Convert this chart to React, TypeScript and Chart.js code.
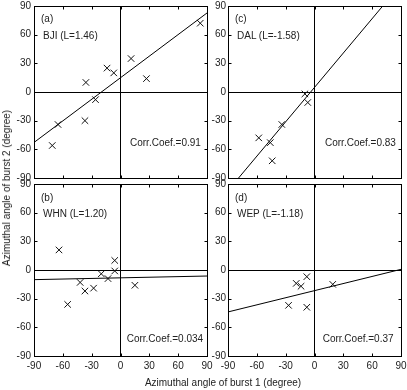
import React, { useEffect, useRef } from "react";
import { Chart, registerables } from "chart.js";

Chart.register(...registerables);

// Azimuthal angles (degree): burst 1 on x, burst 2 on y
const bjiBurst1 = [83, 11, 27, -14, -7, -36, -26, -37, -65, -71];
const bjiBurst2 = [72, 35, 14, 25, 20, 10, -8, -30, -34, -56];
const bjiFit = [-52.8, 82.7]; // fitted y at x = -90 and x = 90

const dalBurst1 = [-10, -7, -34, -58, -46, -44];
const dalBurst2 = [-2, -11, -34, -48, -53, -72];
const dalFit = [-103.2, 112.8];

const whnBurst1 = [-64, -6, -6, -20, -13, -42, -37, -28, 15, -55];
const whnBurst2 = [21, 10, -1, -4, -9, -13, -22, -19, -16, -36];
const whnFit = [-10.1, -6.3];

const wepBurst1 = [-8, -19, -14, 19, -27, -8];
const wepBurst2 = [-7, -14, -17, -15, -37, -39];
const wepFit = [-43.9, 0.7];

const fitX = [-90, 90];
const tickValues = [-90, -60, -30, 0, 30, 60, 90];

const FONT = "'Liberation Sans', Arial, Helvetica, sans-serif";
const INK = "#222";
const W = 407;
const H = 390;

type PanelCfg = {
  tag: string;
  station: string;
  corr: string;
  xs: number[];
  ys: number[];
  fit: number[];
  area: { left: number; right: number; top: number; bottom: number };
  showX: boolean;
  yLabelGap: number;
  text: { tagLeft: number; tagY: number; nameLeft: number; nameY: number; corrLeft: number; corrY: number };
};

const panels: PanelCfg[] = [
  {
    tag: "(a)", station: "BJI (L=1.46)", corr: "Corr.Coef.=0.91",
    xs: bjiBurst1, ys: bjiBurst2, fit: bjiFit,
    area: { left: 34, right: 207, top: 6, bottom: 178 }, showX: false, yLabelGap: 3,
    text: { tagLeft: 41, tagY: 19, nameLeft: 43, nameY: 36, corrLeft: 130, corrY: 142.7 },
  },
  {
    tag: "(c)", station: "DAL (L=-1.58)", corr: "Corr.Coef.=0.83",
    xs: dalBurst1, ys: dalBurst2, fit: dalFit,
    area: { left: 228, right: 401, top: 6, bottom: 178 }, showX: false, yLabelGap: 2,
    text: { tagLeft: 235, tagY: 19, nameLeft: 237, nameY: 36, corrLeft: 325, corrY: 142.7 },
  },
  {
    tag: "(b)", station: "WHN (L=1.20)", corr: "Corr.Coef.=0.034",
    xs: whnBurst1, ys: whnBurst2, fit: whnFit,
    area: { left: 34, right: 207, top: 184, bottom: 356 }, showX: true, yLabelGap: 3,
    text: { tagLeft: 41, tagY: 197.7, nameLeft: 43, nameY: 214, corrLeft: 126.7, corrY: 339.3 },
  },
  {
    tag: "(d)", station: "WEP (L=-1.18)", corr: "Corr.Coef.=0.37",
    xs: wepBurst1, ys: wepBurst2, fit: wepFit,
    area: { left: 228, right: 401, top: 184, bottom: 356 }, showX: true, yLabelGap: 2,
    text: { tagLeft: 235, tagY: 197.7, nameLeft: 237, nameY: 214, corrLeft: 322.7, corrY: 339.3 },
  },
];

const Y_AXIS_W = 30;
const X_AXIS_H = 20;

// Box around the plot area with short inward tick marks on all four sides
const frameTicks = {
  id: "frameTicks",
  afterDraw(chart: any) {
    const { ctx, chartArea, scales } = chart;
    const a = (v: number) => Math.round(v) + 0.5;
    const l = a(chartArea.left), r = a(chartArea.right), t = a(chartArea.top), b = a(chartArea.bottom);
    const len = 3;
    ctx.save();
    ctx.strokeStyle = "#000";
    ctx.lineWidth = 1;
    ctx.beginPath();
    for (const tk of scales.x.ticks) {
      const px = a(scales.x.getPixelForValue(tk.value));
      ctx.moveTo(px, b); ctx.lineTo(px, b - len);
      ctx.moveTo(px, t); ctx.lineTo(px, t + len);
    }
    for (const tk of scales.y.ticks) {
      const py = a(scales.y.getPixelForValue(tk.value));
      ctx.moveTo(l, py); ctx.lineTo(l + len, py);
      ctx.moveTo(r, py); ctx.lineTo(r - len, py);
    }
    ctx.stroke();
    ctx.strokeRect(l, t, r - l, b - t);
    ctx.restore();
  },
};

function zeroGrid(ctx: any) {
  return ctx.tick && ctx.tick.value === 0 ? "#000" : "rgba(0,0,0,0)";
}

function Panel({ cfg }: { cfg: PanelCfg }) {
  const ref = useRef<HTMLCanvasElement>(null);
  useEffect(() => {
    if (!ref.current) return;
    const { area } = cfg;
    const chart = new Chart(ref.current, {
      type: "scatter",
      data: {
        datasets: [
          {
            type: "line",
            data: fitX.map((x, i) => ({ x, y: cfg.fit[i] })),
            borderColor: "#000",
            borderWidth: 1,
            pointRadius: 0,
            fill: false,
          } as any,
          {
            type: "scatter",
            data: cfg.xs.map((x, i) => ({ x, y: cfg.ys[i] })),
            pointStyle: "crossRot",
            pointRadius: 4.6,
            borderColor: "#111",
            backgroundColor: "rgba(0,0,0,0)",
            borderWidth: 1,
          } as any,
        ],
      },
      options: {
        responsive: false,
        animation: false,
        events: [],
        layout: {
          padding: {
            left: area.left - Y_AXIS_W,
            right: W - area.right,
            top: area.top,
            bottom: H - area.bottom - X_AXIS_H,
          },
        },
        plugins: { legend: { display: false }, tooltip: { enabled: false } },
        scales: {
          x: {
            type: "linear",
            min: -90,
            max: 90,
            afterBuildTicks: (s: any) => { s.ticks = tickValues.map((v) => ({ value: v })); },
            ticks: {
              display: cfg.showX,
              autoSkip: false,
              maxRotation: 0,
              padding: 4,
              color: INK,
              font: { family: FONT, size: 10 },
            },
            grid: { color: zeroGrid, drawTicks: false, lineWidth: 1 },
            border: { display: false },
            afterFit: (s: any) => {
              s.height = X_AXIS_H;
              s.paddingLeft = 0; s.paddingRight = 0; s.paddingTop = 0; s.paddingBottom = 0;
            },
          },
          y: {
            type: "linear",
            min: -90,
            max: 90,
            afterBuildTicks: (s: any) => { s.ticks = tickValues.map((v) => ({ value: v })); },
            ticks: {
              autoSkip: false,
              padding: cfg.yLabelGap,
              color: INK,
              font: { family: FONT, size: 10 },
            },
            grid: { color: zeroGrid, drawTicks: false, lineWidth: 1 },
            border: { display: false },
            afterFit: (s: any) => {
              s.width = Y_AXIS_W;
              s.paddingLeft = 0; s.paddingRight = 0; s.paddingTop = 0; s.paddingBottom = 0;
            },
          },
        },
      } as any,
      plugins: [frameTicks],
    });
    return () => chart.destroy();
  }, [cfg]);

  const t = cfg.text;
  const label = (left: number, cy: number, s: string) => (
    <div
      style={{
        position: "absolute",
        left,
        top: cy - 6,
        lineHeight: "12px",
        fontSize: 10,
        fontFamily: FONT,
        color: INK,
        whiteSpace: "nowrap",
      }}
    >
      {s}
    </div>
  );

  return (
    <>
      <canvas ref={ref} width={W} height={H} style={{ position: "absolute", left: 0, top: 0 }} />
      {label(t.tagLeft, t.tagY, cfg.tag)}
      {label(t.nameLeft, t.nameY, cfg.station)}
      {label(t.corrLeft, t.corrY, cfg.corr)}
    </>
  );
}

export default function App() {
  return (
    <div
      style={{
        position: "absolute",
        left: 0,
        top: 0,
        width: W,
        height: H,
        background: "#fff",
        overflow: "hidden",
      }}
    >
      {panels.map((p) => (
        <Panel key={p.tag} cfg={p} />
      ))}
      <div
        style={{
          position: "absolute",
          left: 223,
          top: 383,
          transform: "translate(-50%, -50%)",
          fontSize: 10,
          lineHeight: "12px",
          fontFamily: FONT,
          color: INK,
          whiteSpace: "nowrap",
        }}
      >
        Azimuthal angle of burst 1 (degree)
      </div>
      <div
        style={{
          position: "absolute",
          left: 7,
          top: 188,
          transform: "translate(-50%, -50%) rotate(-90deg)",
          fontSize: 10,
          lineHeight: "12px",
          fontFamily: FONT,
          color: INK,
          whiteSpace: "nowrap",
        }}
      >
        Azimuthal angle of burst 2 (degree)
      </div>
    </div>
  );
}
